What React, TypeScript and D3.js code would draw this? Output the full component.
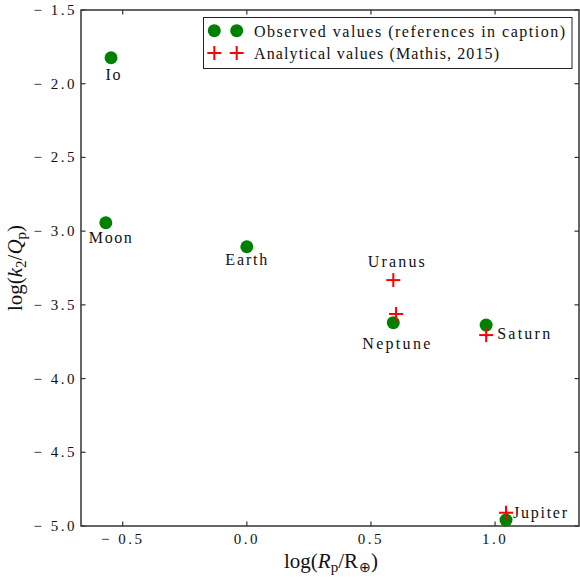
import React from "react";
import * as d3 from "d3";

// Observed tidal dissipation, log(k2/Qp) against log(Rp/R_earth)
const observedNames = ["Io", "Moon", "Earth", "Neptune", "Saturn", "Jupiter"];
const observedLogR = [-0.547, -0.568, 0.0, 0.59, 0.964, 1.044];
const observedLogKQ = [-1.824, -2.943, -3.106, -3.621, -3.637, -4.96];

// Analytical values (Mathis, 2015)
const analyticalNames = ["Uranus", "Neptune", "Saturn", "Jupiter"];
const analyticalLogR = [0.59, 0.601, 0.964, 1.044];
const analyticalLogKQ = [-3.332, -3.562, -3.705, -4.91];

const xTicks = [-0.5, 0.0, 0.5, 1.0];
const yTicks = [-5.0, -4.5, -4.0, -3.5, -3.0, -2.5, -2.0, -1.5];

const legendLabels = [
  "Observed values (references in caption)",
  "Analytical values (Mathis, 2015)",
];

// Name labels: anchor body, pixel offset, alignment and drawn width
type PlanetLabel = { name: string; set: "obs" | "ana"; dx: number; dy: number; anchor: "middle" | "start"; w: number };
const planetLabels: PlanetLabel[] = [
  { name: "Io", set: "obs", dx: 2, dy: 22, anchor: "middle", w: 15 },
  { name: "Moon", set: "obs", dx: 4.5, dy: 20.5, anchor: "middle", w: 43 },
  { name: "Earth", set: "obs", dx: -0.5, dy: 18.5, anchor: "middle", w: 42 },
  { name: "Uranus", set: "ana", dx: 3, dy: -13.5, anchor: "middle", w: 57 },
  { name: "Neptune", set: "obs", dx: 3, dy: 26.5, anchor: "middle", w: 68 },
  { name: "Saturn", set: "obs", dx: 11, dy: 14, anchor: "start", w: 53 },
  { name: "Jupiter", set: "obs", dx: 7, dy: -1.8, anchor: "start", w: 54 },
];

const W = 580;
const H = 579;
const left = 81;
const right = 579;
const top = 10;
const bottom = 526;

const GREEN = "#008000";
const RED = "#ff0000";
const FONT = "Liberation Serif, Times New Roman, Times, serif";

const fmt = (v: number) => (v < 0 ? "\u2212 " + Math.abs(v).toFixed(1) : v.toFixed(1));

function Cross({ x, y, s = 7 }: { x: number; y: number; s?: number }) {
  return (
    <g stroke={RED} strokeWidth={2}>
      <line x1={x - s} x2={x + s} y1={y} y2={y} />
      <line x1={x} x2={x} y1={y - s} y2={y + s} />
    </g>
  );
}

export default function App() {
  const x = d3.scaleLinear().domain([-0.668, 1.338]).range([left, right]);
  const y = d3.scaleLinear().domain([-5.0, -1.5]).range([bottom, top]);

  const observed = observedNames.map((n, i) => ({ name: n, px: x(observedLogR[i]), py: y(observedLogKQ[i]) }));
  const analytical = analyticalNames.map((n, i) => ({ name: n, px: x(analyticalLogR[i]), py: y(analyticalLogKQ[i]) }));

  const tickLen = 4.5;
  const axisColor = "#333";

  return (
    <svg width={W} height={H} style={{ position: "absolute", left: 0, top: 0, fontFamily: FONT }}>
      <rect width={W} height={H} fill="#fff" />

      {/* frame */}
      <rect x={left} y={top} width={right - left} height={bottom - top} fill="none" stroke={axisColor} strokeWidth={1.5} />

      {/* x ticks (bottom and top, pointing inward) */}
      {xTicks.map((t) => (
        <g key={"xt" + t}>
          <line x1={x(t)} x2={x(t)} y1={bottom} y2={bottom - tickLen} stroke={axisColor} strokeWidth={1.2} />
          <line x1={x(t)} x2={x(t)} y1={top} y2={top + tickLen} stroke={axisColor} strokeWidth={1.2} />
          <text x={x(t)} y={544} textAnchor="middle" fontSize={15} letterSpacing={2.5} fill="#111">
            {fmt(t)}
          </text>
        </g>
      ))}

      {/* y ticks (left and right, pointing inward) */}
      {yTicks.map((t) => (
        <g key={"yt" + t}>
          <line x1={left} x2={left + tickLen} y1={y(t)} y2={y(t)} stroke={axisColor} strokeWidth={1.2} />
          <line x1={right} x2={right - tickLen} y1={y(t)} y2={y(t)} stroke={axisColor} strokeWidth={1.2} />
          <text x={77} y={y(t) + 5} textAnchor="end" fontSize={15} letterSpacing={2.5} fill="#111">
            {fmt(t)}
          </text>
        </g>
      ))}

      {/* observed values */}
      {observed.map((d) => (
        <circle key={"o" + d.name} cx={d.px} cy={d.py} r={6.5} fill={GREEN} />
      ))}

      {/* analytical values */}
      {analytical.map((d) => (
        <Cross key={"a" + d.name} x={d.px} y={d.py} />
      ))}

      {/* body names */}
      {planetLabels.map((l) => {
        const src = (l.set === "obs" ? observed : analytical).find((d) => d.name === l.name)!;
        return (
          <text
            key={"l" + l.name}
            x={src.px + l.dx}
            y={src.py + l.dy}
            textAnchor={l.anchor}
            fontSize={16}
            textLength={l.w}
            lengthAdjust="spacing"
            fill="#111"
          >
            {l.name}
          </text>
        );
      })}

      {/* legend */}
      <g>
        <rect x={203.5} y={17.5} width={368.5} height={51} fill="#fff" stroke="#222" strokeWidth={1} />
        <circle cx={214.3} cy={30.7} r={6.5} fill={GREEN} />
        <circle cx={236.7} cy={30.7} r={6.5} fill={GREEN} />
        <Cross x={214.3} y={53} />
        <Cross x={236.7} y={53} />
        <text x={254} y={36.5} fontSize={16} textLength={311} lengthAdjust="spacing" fill="#111">
          {legendLabels[0]}
        </text>
        <text x={254} y={58.5} fontSize={16} textLength={245} lengthAdjust="spacing" fill="#111">
          {legendLabels[1]}
        </text>
      </g>

      {/* x axis label */}
      <text x={331} y={568} textAnchor="middle" fontSize={21} fill="#111">
        log(
        <tspan fontStyle="italic">R</tspan>
        <tspan fontSize={15} dy={4}>p</tspan>
        <tspan dy={-4}>/R</tspan>
        <tspan fontSize={14} dy={4} dx={1}>⊕</tspan>
        <tspan dy={-4}>)</tspan>
      </text>

      {/* y axis label */}
      <text transform={`translate(22,${(top + bottom) / 2}) rotate(-90)`} textAnchor="middle" fontSize={21} fill="#111">
        log(
        <tspan fontStyle="italic">k</tspan>
        <tspan fontSize={15} dy={4}>2</tspan>
        <tspan dy={-4}>/</tspan>
        <tspan fontStyle="italic">Q</tspan>
        <tspan fontSize={15} dy={4}>p</tspan>
        <tspan dy={-4}>)</tspan>
      </text>
    </svg>
  );
}
